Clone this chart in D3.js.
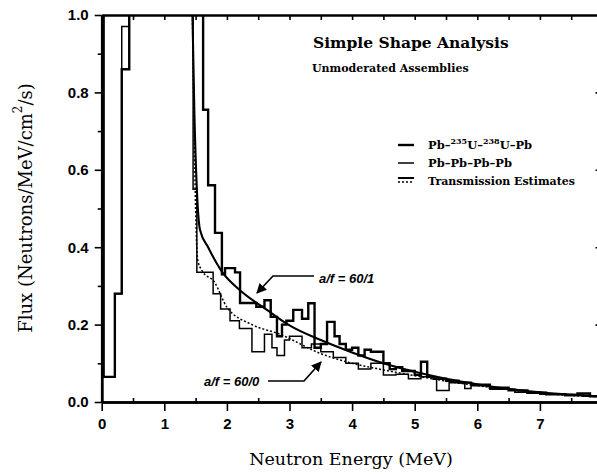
<!DOCTYPE html>
<html>
<head>
<meta charset="utf-8">
<script src="https://cdn.jsdelivr.net/npm/d3@7"></script>
<style>
  body { margin: 0; background: #fff; }
  .tick text { font-family: "Liberation Sans", Arial, sans-serif; font-weight: bold; font-size: 15px; fill: #000; }
  .serif { font-family: "DejaVu Serif", serif; fill: #000; }
</style>
</head>
<body>
<div id="chart"></div>
<script>
var svgWidth = 597;
var svgHeight = 474;

var margin = { top: 15, left: 101.7 };
var width = 500.8;   // 0..8 MeV
var height = 387;    // 0..1.0

// Pb-235U-238U-Pb histogram (bin edges, values)
var aEdges = [0, 0.03, 0.21, 0.32, 0.44, 1.62, 1.70, 1.81, 1.92, 1.97, 2.13, 2.21, 2.47, 2.6, 2.7, 2.8, 2.88, 2.95, 3.06, 3.2, 3.3, 3.4, 3.5, 3.6, 3.72, 3.8, 3.9, 4.0, 4.1, 4.2, 4.3, 4.5, 4.6, 4.7, 4.8, 5.0, 5.1, 5.2, 5.3, 5.5, 5.7, 5.9, 6.2, 6.5, 6.8, 7.1, 7.4, 7.6, 7.8, 8.0];
var aValues = [1.5, 0.065, 0.28, 0.86, 1.5, 0.755, 0.56, 0.437, 0.33, 0.346, 0.335, 0.256, 0.246, 0.263, 0.22, 0.17, 0.2, 0.21, 0.238, 0.215, 0.255, 0.14, 0.15, 0.207, 0.17, 0.15, 0.135, 0.14, 0.12, 0.135, 0.13, 0.1, 0.085, 0.09, 0.08, 0.07, 0.104, 0.065, 0.06, 0.055, 0.05, 0.045, 0.037, 0.03, 0.024, 0.02, 0.018, 0.022, 0.015];

// Pb-Pb-Pb-Pb histogram
var bEdges = [0, 0.03, 0.21, 0.32, 0.44, 1.46, 1.52, 1.78, 1.9, 2.05, 2.2, 2.4, 2.6, 2.72, 2.8, 2.92, 3.0, 3.2, 3.35, 3.5, 3.7, 3.9, 4.1, 4.3, 4.5, 4.7, 4.9, 5.1, 5.35, 5.55, 5.8, 5.9, 6.2, 6.6, 7.0, 7.4, 7.7, 8.0];
var bValues = [1.5, 0.065, 0.28, 0.97, 1.5, 0.55, 0.335, 0.28, 0.24, 0.21, 0.19, 0.13, 0.175, 0.14, 0.12, 0.16, 0.17, 0.14, 0.15, 0.13, 0.115, 0.1, 0.085, 0.1, 0.07, 0.072, 0.06, 0.065, 0.03, 0.05, 0.035, 0.042, 0.033, 0.025, 0.02, 0.017, 0.015];

// Transmission estimates
var fit1E = [1.45, 1.48, 1.52, 1.57, 1.7, 1.92, 2.2, 2.64, 3.0, 3.5, 4.0, 4.5, 5.0, 5.5, 6.0, 6.5, 7.0, 7.5, 8.0];
var fit1V = [1.0, 0.75, 0.55, 0.445, 0.40, 0.337, 0.29, 0.238, 0.198, 0.16, 0.128, 0.1, 0.078, 0.06, 0.046, 0.034, 0.025, 0.019, 0.014];
var fit0E = [1.45, 1.5, 1.53, 1.6, 1.8, 2.0, 2.4, 2.85, 3.5, 4.0, 4.5, 5.0, 5.5, 6.0, 6.5, 7.0, 7.5, 8.0];
var fit0V = [1.0, 0.5, 0.37, 0.34, 0.31, 0.245, 0.2, 0.175, 0.125, 0.1, 0.083, 0.068, 0.054, 0.042, 0.032, 0.023, 0.017, 0.013];

var xTicks = [0, 1, 2, 3, 4, 5, 6, 7];
var yTicks = [0, 0.2, 0.4, 0.6, 0.8, 1.0];

var svg = d3.select("#chart")
  .append("svg")
  .attr("width", svgWidth)
  .attr("height", svgHeight);

var chartGroup = svg.append("g")
  .attr("transform", `translate(${margin.left}, ${margin.top})`);

var x = d3.scaleLinear().domain([0, 8]).range([0, width]);
var y = d3.scaleLinear().domain([0, 1]).range([height, 0]);

chartGroup.append("clipPath").attr("id", "plotClip")
  .append("rect").attr("width", width).attr("height", height);

// step points from edges/values
function steps(edges, values) {
  var pts = values.map((v, i) => [edges[i], v]);
  pts.push([edges[edges.length - 1], values[values.length - 1]]);
  return pts;
}

var stepLine = d3.line()
  .x(d => x(d[0]))
  .y(d => y(d[1]))
  .curve(d3.curveStepAfter);

var smoothLine = d3.line()
  .x(d => x(d[0]))
  .y(d => y(d[1]))
  .curve(d3.curveMonotoneX);

var plot = chartGroup.append("g").attr("clip-path", "url(#plotClip)");

plot.append("path")
  .datum(steps(bEdges, bValues))
  .attr("d", stepLine)
  .attr("fill", "none").attr("stroke", "#000").attr("stroke-width", 1.5);

plot.append("path")
  .datum(steps(aEdges, aValues))
  .attr("d", stepLine)
  .attr("fill", "none").attr("stroke", "#000").attr("stroke-width", 2.4);

plot.append("path")
  .datum(fit0E.map((e, i) => [e, fit0V[i]]))
  .attr("d", smoothLine)
  .attr("fill", "none").attr("stroke", "#000").attr("stroke-width", 1.5)
  .attr("stroke-dasharray", "2,2");

plot.append("path")
  .datum(fit1E.map((e, i) => [e, fit1V[i]]))
  .attr("d", smoothLine)
  .attr("fill", "none").attr("stroke", "#000").attr("stroke-width", 2.1);

// Axes
var leftAxis = d3.axisLeft(y).tickValues(yTicks).tickFormat(d3.format(".1f")).tickSize(7).tickSizeOuter(0).tickPadding(6);
var leftMinor = d3.axisLeft(y).tickValues([0.1, 0.3, 0.5, 0.7, 0.9]).tickFormat("").tickSize(4).tickSizeOuter(0);
var bottomAxis = d3.axisBottom(x).tickValues(xTicks).tickFormat(d3.format("d")).tickSize(9).tickSizeOuter(0).tickPadding(7);
var bottomMinor = d3.axisBottom(x).tickValues(d3.range(0.5, 8, 1)).tickFormat("").tickSize(-4).tickSizeOuter(0);
var topAxis = d3.axisTop(x).tickValues(d3.range(0.5, 8, 0.5)).tickFormat("").tickSize(-5).tickSizeOuter(0);
var rightAxis = d3.axisRight(y).tickValues([0.2, 0.4, 0.6, 0.8]).tickFormat("").tickSize(-7).tickSizeOuter(0);

function styleAxis(g) {
  g.select(".domain").attr("stroke-width", 2.5);
  g.selectAll(".tick line").attr("stroke-width", 1.6);
}

chartGroup.append("g").call(leftAxis).call(styleAxis);
chartGroup.append("g").call(leftMinor).call(styleAxis);
chartGroup.append("g").attr("transform", `translate(0, ${height})`).call(bottomAxis).call(styleAxis);
chartGroup.append("g").attr("transform", `translate(0, ${height})`).call(bottomMinor).call(styleAxis);
chartGroup.append("g").call(topAxis).call(styleAxis);
chartGroup.append("g").attr("transform", `translate(${width}, 0)`).call(rightAxis).call(styleAxis);

chartGroup.selectAll(".tick text").attr("font-family", null).attr("font-size", null);

// Axis labels
svg.append("text")
  .attr("class", "serif")
  .attr("transform", "translate(25, 208) rotate(-90)")
  .attr("text-anchor", "middle")
  .attr("dominant-baseline", "central")
  .attr("font-size", 18)
  .html("Flux (Neutrons/MeV/cm<tspan baseline-shift='super' font-size='12'>2</tspan>/s)");

svg.append("text")
  .attr("class", "serif")
  .attr("x", 351).attr("y", 459)
  .attr("text-anchor", "middle")
  .attr("dominant-baseline", "central")
  .attr("font-size", 17.5)
  .text("Neutron Energy (MeV)");

// Titles
svg.append("text").attr("class", "serif")
  .attr("x", 313).attr("y", 48)
  .attr("font-size", 15.5).attr("font-weight", "bold")
  .text("Simple Shape Analysis");

svg.append("text").attr("class", "serif")
  .attr("x", 312).attr("y", 72)
  .attr("font-size", 11).attr("font-weight", "bold")
  .text("Unmoderated Assemblies");

// Legend
var legend = svg.append("g").attr("class", "serif").attr("font-size", 11.5).attr("font-weight", "bold");
legend.append("line").attr("x1", 398).attr("x2", 414).attr("y1", 145).attr("y2", 145).attr("stroke", "#000").attr("stroke-width", 2.4);
legend.append("line").attr("x1", 398).attr("x2", 414).attr("y1", 163).attr("y2", 163).attr("stroke", "#000").attr("stroke-width", 1.5);
legend.append("line").attr("x1", 398).attr("x2", 414).attr("y1", 178).attr("y2", 178).attr("stroke", "#000").attr("stroke-width", 2);
legend.append("line").attr("x1", 398).attr("x2", 414).attr("y1", 182).attr("y2", 182).attr("stroke", "#000").attr("stroke-width", 1.4).attr("stroke-dasharray", "2,2");

legend.append("text").attr("x", 428).attr("y", 149)
  .html("Pb–<tspan baseline-shift='super' font-size='8'>235</tspan>U–<tspan baseline-shift='super' font-size='8'>238</tspan>U–Pb");
legend.append("text").attr("x", 428).attr("y", 167).text("Pb–Pb–Pb–Pb");
legend.append("text").attr("x", 428).attr("y", 185).attr("font-size", 11).text("Transmission Estimates");

// Annotations
var ann = svg.append("g");
ann.append("defs").append("marker")
  .attr("id", "arrow").attr("viewBox", "0 0 10 10").attr("refX", 9).attr("refY", 5)
  .attr("markerWidth", 6).attr("markerHeight", 6).attr("orient", "auto")
  .append("path").attr("d", "M0,0 L10,5 L0,10 z").attr("fill", "#000");

ann.append("polyline")
  .attr("points", "314,276 273,276 257,293")
  .attr("fill", "none").attr("stroke", "#000").attr("stroke-width", 1.7)
  .attr("marker-end", "url(#arrow)");
ann.append("text")
  .attr("x", 319).attr("y", 283)
  .attr("font-family", "Liberation Sans, Arial, sans-serif")
  .attr("font-size", 13).attr("font-weight", "bold").attr("font-style", "italic")
  .text("a/f = 60/1");

ann.append("polyline")
  .attr("points", "268,381 304,381 321,362")
  .attr("fill", "none").attr("stroke", "#000").attr("stroke-width", 1.7)
  .attr("marker-end", "url(#arrow)");
ann.append("text")
  .attr("x", 204).attr("y", 386)
  .attr("font-family", "Liberation Sans, Arial, sans-serif")
  .attr("font-size", 13).attr("font-weight", "bold").attr("font-style", "italic")
  .text("a/f = 60/0");
</script>
</body>
</html>
